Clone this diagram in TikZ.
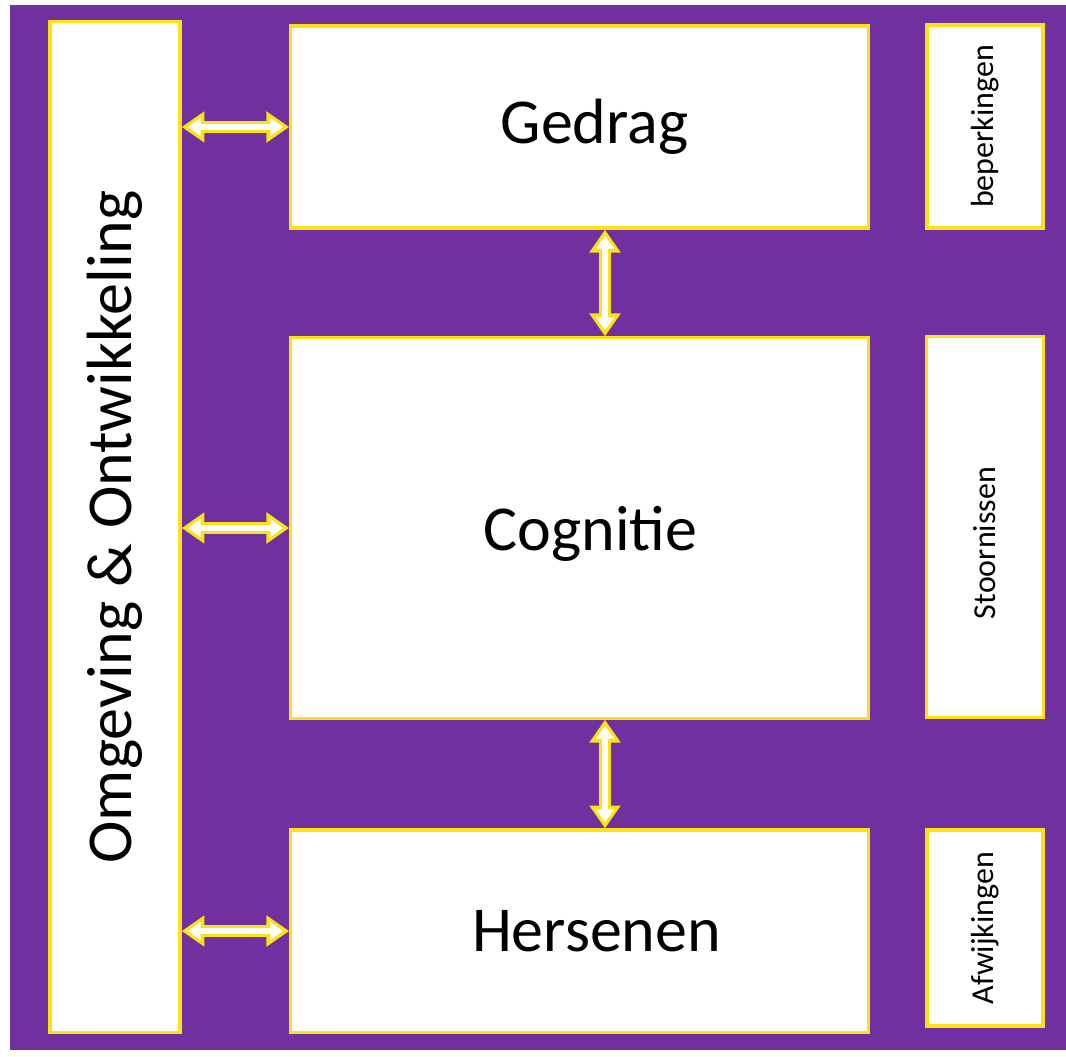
\documentclass[tikz,border=0pt]{standalone}
\usepackage{fontspec}
\setmainfont{Carlito}
\usetikzlibrary{arrows.meta,positioning}
\definecolor{paars}{RGB}{112,48,160}
\definecolor{geel}{RGB}{250,226,20}
\tikzset{
  box/.style={draw=geel, line width=0.9pt, fill=white, inner sep=0pt},
  groot/.style={font=\fontsize{18.2}{20}\selectfont},
  klein/.style={font=\fontsize{9.1}{11}\selectfont},
  pijl/.style={draw=geel, line width=3.4pt, {Triangle[width=8.5pt,length=6.5pt]}-{Triangle[width=8.5pt,length=6.5pt]}},
  pijlkern/.style={draw=white, line width=1.9pt, shorten <=1.8pt, shorten >=1.8pt, {Triangle[width=5pt,length=3.6pt]}-{Triangle[width=5pt,length=3.6pt]}}
}

\begin{document}
\begin{tikzpicture}[x=0.01cm, y=-0.01cm]
        \useasboundingbox (0,0) rectangle (1066,1056);
        \fill [paars] (10,5) rectangle (1066,1050);
        % linker kolom
        \node [box, groot, rotate=90, minimum width=10.1cm, minimum height=1.3cm] (omgeving) at (115,527) {Omgeving \& Ontwikkeling};
        % middelste kolom
        \node [box, minimum width=5.77cm, minimum height=2.02cm, label={[groot, xshift=0.15cm]center:Gedrag}] (gedrag) at (579.5,127) {};
        \node [box, minimum width=5.77cm, minimum height=3.8cm, label={[groot, xshift=0.11cm, yshift=-0.06cm]center:Cognitie}] (cognitie) at (579.5,528) {};
        \node [box, minimum width=5.77cm, minimum height=2.02cm, label={[groot, xshift=0.17cm]center:Hersenen}] (hersenen) at (579.5,931) {};
        % rechter kolom
        \node [box, klein, rotate=90, minimum width=2.03cm, minimum height=1.16cm] (beperkingen) at (985,126.5) {beperkingen};
        \node [box, minimum width=1.17cm, minimum height=3.8cm, label={[klein, yshift=-0.16cm, rotate=90]center:Stoornissen}] (stoornissen) at (985,527) {};
        \node [box, klein, rotate=90, minimum width=1.96cm, minimum height=1.16cm] (afwijkingen) at (985,928) {Afwijkingen};
        % pijlen
        \foreach \doel in {gedrag, cognitie, hersenen} {
          \draw [pijl] (\doel.west -| omgeving.south) -- (\doel.west);
          \draw [pijlkern] (\doel.west -| omgeving.south) -- (\doel.west);
        }
        \draw [pijl] ([xshift=0.255cm]gedrag.south) -- ([xshift=0.255cm]cognitie.north);
        \draw [pijlkern] ([xshift=0.255cm]gedrag.south) -- ([xshift=0.255cm]cognitie.north);
        \draw [pijl] ([xshift=0.255cm]cognitie.south) -- ([xshift=0.255cm]hersenen.north);
        \draw [pijlkern] ([xshift=0.255cm]cognitie.south) -- ([xshift=0.255cm]hersenen.north);
      \end{tikzpicture}
\end{document}
